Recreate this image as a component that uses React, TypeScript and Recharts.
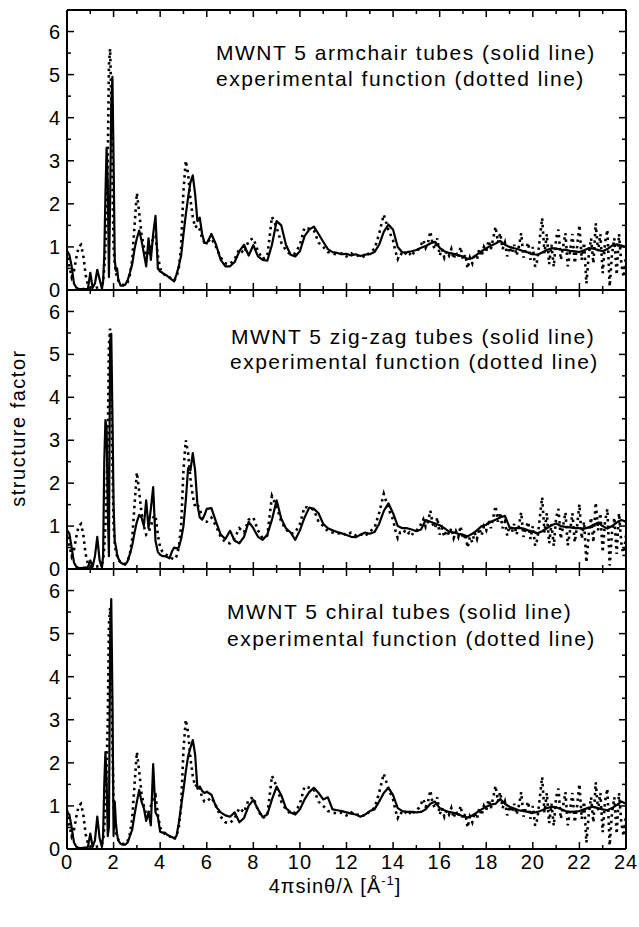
import { LineChart, Line, XAxis, YAxis } from "recharts";

// x grid helper (scattering vector values, 1/Å)
const span = (from: number, to: number, step: number) =>
  Array.from({ length: Math.round((to - from) / step) + 1 }, (_, i) => +(from + i * step).toFixed(2));

const qSim = [...span(0, 1.5, 0.1), ...span(1.55, 2.2, 0.05), ...span(2.3, 6, 0.1), ...span(6.2, 24, 0.2)];
const qExp = [...span(0, 1.5, 0.1), ...span(1.55, 2.2, 0.05), ...span(2.3, 6, 0.1), ...span(6.2, 14, 0.2), ...span(14.1, 24, 0.1)];

const majorX = [0, 2, 4, 6, 8, 10, 12, 14, 16, 18, 20, 22, 24];
const minorX = [1, 3, 5, 7, 9, 11, 13, 15, 17, 19, 21, 23];
const majorY = [0, 1, 2, 3, 4, 5, 6];
const minorY = [0.5, 1.5, 2.5, 3.5, 4.5, 5.5];

const armchair = [
  0.9, 0.82, 0.55, 0.15, 0.05, 0.03, 0.02, 0.03, 0.02, 0.03, 0.4, 0.05, 0.15, 0.47, 0.25, 0.03,
  0.2, 0.8, 2.2, 3.3, 2.5, 0.3, 2.0, 4.3, 4.95, 3.0, 0.7, 0.45, 0.5, 0.25,
  0.1, 0.1, 0.12, 0.22, 0.4, 0.6, 0.95,
  1.2, 1.38, 1.15, 0.85, 0.55, 1.2, 0.7, 1.3, 1.72, 0.5,
  0.43, 0.4, 0.36, 0.33, 0.28, 0.24, 0.2, 0.36, 0.55, 0.8,
  1.29, 1.75, 2.15, 2.5, 2.66, 2.23, 1.6, 1.68, 1.3, 1.1,
  1.08,
  1.3, 1.05, 0.7, 0.55,
  0.55, 0.65, 0.9, 1.05, 0.8,
  1.04, 0.78, 0.7, 0.68, 1.05,
  1.6, 1.5, 1.05, 0.82, 0.78,
  0.9, 1.25, 1.4, 1.47, 1.3,
  1.12, 0.95, 0.88, 0.86, 0.83,
  0.84, 0.8, 0.83, 0.79, 0.82,
  0.83, 0.88, 1.05, 1.35, 1.52,
  1.4, 1.0, 0.87, 0.88, 0.9,
  0.93, 0.98, 1.02, 1.08, 1.12,
  0.98, 0.9, 0.86, 0.84, 0.8,
  0.78, 0.72, 0.74, 0.82, 0.9,
  0.97, 1.03, 1.08, 1.14, 1.05,
  1.0, 0.97, 0.94, 0.9, 0.87,
  0.83, 0.82, 0.87, 0.93, 0.97,
  0.96, 0.94, 0.93, 0.91, 0.9,
  0.88, 0.92, 0.97, 0.96, 0.93,
  0.9, 0.95, 1.03, 1.06, 1.03,
  1.0,
];

const zigzag = [
  0.9, 0.83, 0.5, 0.15, 0.05, 0.03, 0.02, 0.03, 0.03, 0.05, 0.2, 0.05, 0.3, 0.75, 0.2, 0.03,
  0.3, 2.5, 3.47, 3.3, 1.4, 0.3, 5.3, 5.48, 3.6, 1.5, 0.65, 0.52, 0.35, 0.25,
  0.15, 0.12, 0.1, 0.18, 0.35, 0.55, 0.85,
  1.1, 1.26, 1.2, 1.0, 1.6, 0.95, 1.4, 1.91, 0.65, 0.4,
  0.33, 0.3, 0.3, 0.28, 0.25, 0.4, 0.5, 0.48, 0.5, 0.7,
  1.0, 1.6, 2.35, 2.3, 2.7, 2.3, 1.5, 1.2, 1.15, 1.25,
  1.4,
  1.42, 1.1, 0.8, 0.7,
  0.89, 0.66, 0.6, 0.75, 1.1,
  0.95, 0.75, 0.68, 0.8, 1.15,
  1.6, 1.17, 0.95, 0.85, 0.68,
  0.9, 1.2, 1.43, 1.4, 1.3,
  1.05, 0.95, 0.9, 0.86, 0.83,
  0.79, 0.75, 0.74, 0.8, 0.85,
  0.82, 0.86, 1.05, 1.35, 1.53,
  1.3, 1.0, 0.95, 0.95, 0.92,
  0.88, 0.92, 1.14, 1.1, 1.06,
  1.02, 0.95, 0.87, 0.85, 0.82,
  0.8, 0.76, 0.82, 0.9, 1.0,
  1.03, 1.1, 1.15, 1.2, 1.24,
  0.97, 0.95, 0.96, 0.94, 0.9,
  0.87, 0.83, 0.88, 0.95, 1.02,
  1.06, 1.0, 0.98, 0.97, 0.95,
  0.95, 0.94, 0.97, 1.03, 1.08,
  1.0, 0.94, 1.0, 1.08, 1.14,
  1.1,
];

const chiral = [
  0.85, 0.8, 0.5, 0.15, 0.05, 0.03, 0.02, 0.03, 0.03, 0.05, 0.36, 0.05, 0.2, 0.75, 0.25, 0.05,
  0.3, 1.5, 2.25, 1.6, 0.3, 0.5, 4.7, 5.8, 3.5, 0.3, 1.1, 0.6, 0.35, 0.2,
  0.12, 0.1, 0.1, 0.15, 0.3, 0.45, 0.8,
  1.1, 1.37, 1.1, 0.95, 0.65, 0.85, 0.55, 1.97, 0.85, 0.75,
  0.4, 0.38, 0.38, 0.33, 0.3, 0.28, 0.25, 0.3, 0.6, 1.0,
  1.37, 1.8, 2.15, 2.35, 2.53, 2.2, 1.4, 1.45, 1.35, 1.3,
  1.33,
  1.26, 0.98, 0.85, 0.78,
  0.75, 0.85, 0.62, 0.72, 1.0,
  1.14, 0.92, 0.74, 0.8, 1.15,
  1.45, 1.25, 0.95, 0.85, 0.8,
  0.92, 1.15, 1.32, 1.42, 1.3,
  1.15, 1.2, 0.92, 0.9, 0.88,
  0.85, 0.82, 0.8, 0.75, 0.8,
  0.88, 0.92, 1.1, 1.3, 1.42,
  1.25, 0.95, 0.88, 0.86, 0.86,
  0.85, 0.86, 0.92, 1.05, 1.1,
  0.95, 0.9, 0.86, 0.84, 0.8,
  0.76, 0.73, 0.78, 0.85, 0.92,
  0.98, 1.03, 1.05, 1.16, 1.05,
  0.98, 0.94, 0.9, 0.88, 0.86,
  0.84, 0.86, 0.9, 0.95, 0.98,
  0.97, 0.93, 0.88, 0.86, 0.87,
  0.88, 0.92, 0.96, 0.98, 0.95,
  0.92, 0.9, 0.95, 1.02, 1.1,
  1.05,
];

const experimental = [
  0.9, 0.55, 0.3, 0.45, 0.75, 1.0, 1.05, 0.8, 0.35, 0.12, 0.05, 0.04, 0.05, 0.06, 0.08, 0.12,
  0.2, 0.5, 1.0, 1.8, 3.0, 5.2, 5.6, 4.5, 2.5, 1.0, 0.6, 0.4, 0.3, 0.22,
  0.15, 0.12, 0.12, 0.18, 0.35, 0.7, 1.5,
  2.25, 1.8, 1.3, 1.0, 0.8, 0.85, 1.0, 1.2, 1.25, 0.8,
  0.5, 0.4, 0.35, 0.32, 0.3, 0.25, 0.22, 0.3, 0.5, 1.0,
  2.3, 3.0, 2.7, 2.1, 1.7, 1.45, 1.5, 1.4, 1.2, 1.1,
  1.1,
  1.2, 1.0, 0.75, 0.62,
  0.6, 0.72, 0.95, 0.85, 1.15,
  1.2, 0.9, 0.72, 0.78, 1.7,
  1.45, 1.1, 0.92, 0.82, 0.85,
  1.05, 1.45, 1.42, 1.38, 1.1,
  1.0, 0.88, 0.85, 0.82, 0.85,
  0.78, 0.85, 0.78, 0.82, 0.76,
  0.88, 0.95, 1.3, 1.75, 1.4,
  1.15,
  0.9, 0.72, 0.85, 0.82, 0.88, 0.8, 0.85, 0.78, 0.88, 0.9,
  0.95, 1.05, 1.16, 0.98, 1.1, 1.36, 1.05, 0.95, 1.2, 0.8,
  0.95, 0.75, 0.9, 0.8, 0.95, 0.72, 0.88, 0.75, 1.0, 0.7,
  0.82, 0.5, 0.75, 0.62, 0.85, 0.7, 0.95, 0.78, 1.0, 0.9,
  1.15, 0.95, 1.2, 1.47, 1.1, 1.32, 0.95, 1.1, 0.78, 1.0,
  0.85, 1.05, 0.8, 1.0, 1.32, 0.75, 0.95, 1.1, 0.7, 1.0,
  0.54, 0.7, 1.2, 1.67, 0.85, 1.3, 0.6, 1.05, 0.54, 1.2,
  1.4, 0.7, 1.0, 1.32, 0.55, 0.9, 1.3, 0.62, 1.0, 1.51,
  0.7, 1.1, 0.15, 0.8, 1.2, 0.62, 1.55, 0.9, 1.3, 0.39,
  1.1, 1.4, 0.08, 0.85, 1.2, 0.35, 1.3, 0.6, 0.3, 0.8,
];

const INK = "#000";
const FONT = "'Liberation Sans', Arial, Helvetica, sans-serif";
const THIN = 0.01; // axes refuse to draw at size 0
const NoLabel = () => <g />;

type PanelProps = { sim: number[]; top: number; height: number; last?: boolean };

const Panel = ({ sim, top, height, last }: PanelProps) => {
  const simData = qSim.map((q, i) => ({ q, s: sim[i] }));
  const expData = qExp.map((q, i) => ({ q, s: experimental[i] }));
  const frame = { stroke: INK, strokeWidth: 2 };
  const tickLn = { stroke: INK, strokeWidth: 1.5 };
  const xTicks = { dataKey: "q", type: "number" as const, domain: [0, 24], interval: 0, allowDataOverflow: true,
    mirror: true, height: THIN, tick: NoLabel, tickLine: tickLn };
  const yTicks = { type: "number" as const, domain: [0, 6.5], interval: 0, allowDataOverflow: true, mirror: true,
    width: THIN, tick: NoLabel, tickLine: tickLn };
  // transparent helper series so every tick-only axis has a domain to draw with
  const ghost = { data: expData, dataKey: "s", stroke: "none", dot: false, activeDot: false, isAnimationActive: false };
  return (
    <div style={{ position: "absolute", left: 0, top }}>
      <LineChart width={639} height={height} margin={{ top: 10, right: 13, bottom: last ? 10 : 10 - THIN, left: 7 }}>
        <XAxis xAxisId="b" dataKey="q" type="number" domain={[0, 24]} ticks={majorX} interval={0} allowDataOverflow
          height={last ? 40 : THIN} tick={last ? { fill: INK, fontSize: 20 } : false} tickLine={false} tickSize={0}
          tickMargin={6} axisLine={frame} />
        <XAxis xAxisId="bt" {...xTicks} ticks={majorX} tickSize={7} axisLine={false} />
        <XAxis xAxisId="bm" {...xTicks} ticks={minorX} tickSize={4} axisLine={false} />
        <XAxis xAxisId="tt" orientation="top" {...xTicks} ticks={majorX} tickSize={7} axisLine={frame} />
        <XAxis xAxisId="tm" orientation="top" {...xTicks} ticks={minorX} tickSize={4} axisLine={false} />
        <YAxis yAxisId="l" type="number" domain={[0, 6.5]} ticks={majorY} interval={0} allowDataOverflow width={60}
          tick={{ fill: INK, fontSize: 20 }} tickLine={false} tickSize={0} tickMargin={6} axisLine={frame} />
        <YAxis yAxisId="lt" {...yTicks} ticks={majorY} tickSize={7} axisLine={false} />
        <YAxis yAxisId="lm" {...yTicks} ticks={minorY} tickSize={4} axisLine={false} />
        <YAxis yAxisId="rt" orientation="right" {...yTicks} ticks={majorY} tickSize={7} axisLine={frame} />
        <YAxis yAxisId="rm" orientation="right" {...yTicks} ticks={minorY} tickSize={4} axisLine={false} />
        <Line xAxisId="bt" yAxisId="lt" {...ghost} />
        <Line xAxisId="bm" yAxisId="lm" {...ghost} />
        <Line xAxisId="tt" yAxisId="rt" {...ghost} />
        <Line xAxisId="tm" yAxisId="rm" {...ghost} />
        <Line xAxisId="b" yAxisId="l" data={expData} dataKey="s" type="linear" stroke={INK} strokeWidth={2.6}
          strokeDasharray="2.5 4" dot={false} isAnimationActive={false} />
        <Line xAxisId="b" yAxisId="l" data={simData} dataKey="s" type="linear" stroke={INK} strokeWidth={2.2}
          strokeLinejoin="round" dot={false} isAnimationActive={false} />
      </LineChart>
    </div>
  );
};

const txt = { fontSize: 21, letterSpacing: 1.5, fill: INK };

export default function App() {
  return (
    <div style={{ position: "absolute", left: 0, top: 0, width: 639, height: 927, background: "#fff",
      fontFamily: FONT, letterSpacing: 1 }}>
      <Panel sim={armchair} top={0} height={300} />
      <Panel sim={zigzag} top={280} height={299} />
      <Panel sim={chiral} top={559} height={340} last />
      <svg width={639} height={927} style={{ position: "absolute", left: 0, top: 0, pointerEvents: "none" }}>
        <text x={216} y={60} {...txt}>MWNT 5 armchair tubes (solid line)</text>
        <text x={216} y={86} {...txt}>experimental function (dotted line)</text>
        <text x={231} y={344} {...txt}>MWNT 5 zig-zag tubes (solid line)</text>
        <text x={230} y={369} {...txt}>experimental function (dotted line)</text>
        <text x={227} y={619} {...txt}>MWNT 5 chiral tubes (solid line)</text>
        <text x={227} y={646} {...txt}>experimental function (dotted line)</text>
        <text transform="rotate(-90)" x={-428} y={25} textAnchor="middle" fontSize={20} letterSpacing={1.5} fill={INK}>
          structure factor
        </text>
        <text x={335} y={893} textAnchor="middle" fontSize={20} letterSpacing={1} fill={INK}>
          4πsinθ/λ  [Å<tspan fontSize={13} dy={-8}>-1</tspan><tspan dy={8}>]</tspan>
        </text>
      </svg>
    </div>
  );
}
